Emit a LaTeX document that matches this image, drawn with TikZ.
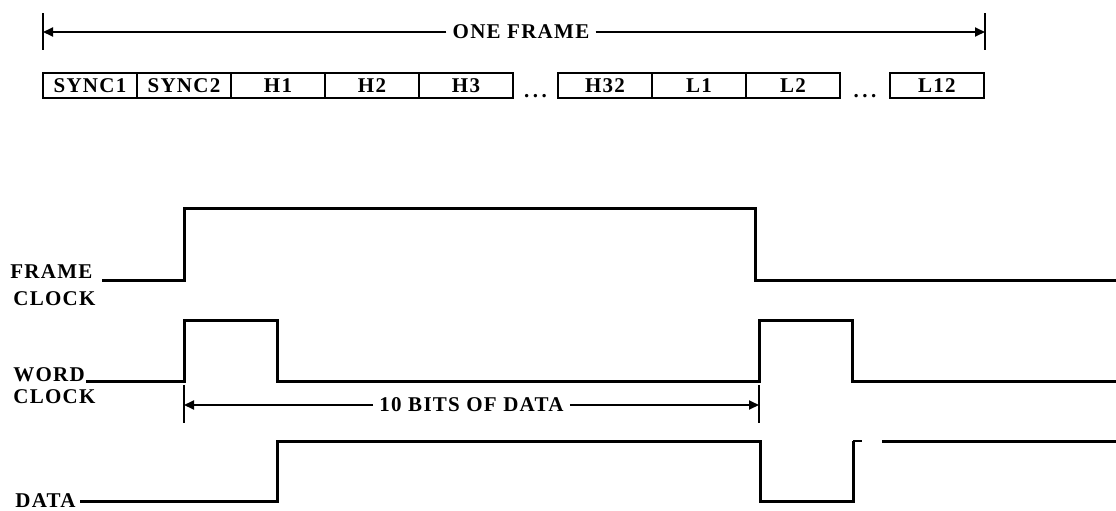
\documentclass[tikz,border=0pt]{standalone}
\usepackage{fontspec}
\setmainfont{Liberation Serif}
\newfontfamily\scanfont[LetterSpace=6]{Liberation Serif}
\usetikzlibrary{positioning, arrows.meta}

\begin{document}
\begin{tikzpicture}[
    x=0.5pt, y=-0.5pt,
    node distance=0pt,
    cell/.style={rectangle, draw, line width=1pt, outer sep=0pt, inner sep=0pt, minimum width=47pt, minimum height=12.5pt, font=\scanfont\bfseries\fontsize{10.5}{12}\selectfont},
    tag/.style={inner sep=0pt, font=\scanfont\bfseries\fontsize{10.5}{12}\selectfont},
    signal/.style={line width=1.5pt, line join=miter},
    dim/.style={-{Triangle[length=5pt, width=4.5pt]}, line width=0.9pt},
    tick/.style={line width=1.2pt}
]
\useasboundingbox (0,0) rectangle (1116,510);

% Frame span
\coordinate (fl) at (43,32);
\coordinate (fr) at (985,32);
\node[tag, inner xsep=3pt] (frame) at (521,32) {ONE FRAME};
\draw[tick] ([yshift=9.5pt]fl) -- ([yshift=-9pt]fl);
\draw[tick] ([yshift=9.5pt]fr) -- ([yshift=-9pt]fr);
\draw[dim] (frame) -- (fl);
\draw[dim] (frame) -- (fr);

% Words of one frame
\node[cell, anchor=west] (sync1) at (43,85.5) {SYNC1};
\node[cell, right=of sync1] (sync2) {SYNC2};
\node[cell, right=of sync2] (h1) {H1};
\node[cell, right=of h1] (h2) {H2};
\node[cell, right=of h2] (h3) {H3};
\node[cell, right=22.5pt of h3] (h32) {H32};
\node[cell, right=of h32] (l1) {L1};
\node[cell, right=of l1] (l2) {L2};
\node[cell, right=25pt of l2] (l12) {L12};
\node[tag, anchor=base] (gapa) at (535.5,97) {.\,.\,.};
\node[tag, anchor=base] (gapb) at (865,97) {.\,.\,.};

% Signal names
\node[tag, anchor=base west] (frmlbl) at (10,278) {FRAME};
\node[tag, anchor=base west] (frmclk) at (13,305) {CLOCK};
\node[tag, anchor=base west] (wrdlbl) at (13,381) {WORD};
\node[tag, anchor=base west] (wrdclk) at (13,403) {CLOCK};
\node[tag, anchor=base west] (datlbl) at (15,507) {DATA};

% Waveforms
\draw[signal] (102,280) -- (184,280) -- (184,208) -- (755,208) -- (755,280) -- (1116,280);
\draw[signal] (86,381) -- (184,381) -- (184,320) -- (277,320) -- (277,381)
    -- (759,381) -- (759,320) -- (852,320) -- (852,381) -- (1116,381);
\draw[signal] (80,501) -- (277,501) -- (277,441) -- (760,441) -- (760,501) -- (853,501) -- (853,441);
\draw[line width=1pt] (853,441) -- (862,441);
\draw[signal] (882,441) -- (1116,441);

% Ten bit span
\coordinate (bl) at (184,405);
\coordinate (br) at (759,405);
\node[tag, inner xsep=3pt] (bits) at (471.5,405) {10 BITS OF DATA};
\draw[tick] ([yshift=10pt]bl) -- ([yshift=-9pt]bl);
\draw[tick] ([yshift=10pt]br) -- ([yshift=-9pt]br);
\draw[dim] (bits) -- (bl);
\draw[dim] (bits) -- (br);

\end{tikzpicture}
\end{document}
